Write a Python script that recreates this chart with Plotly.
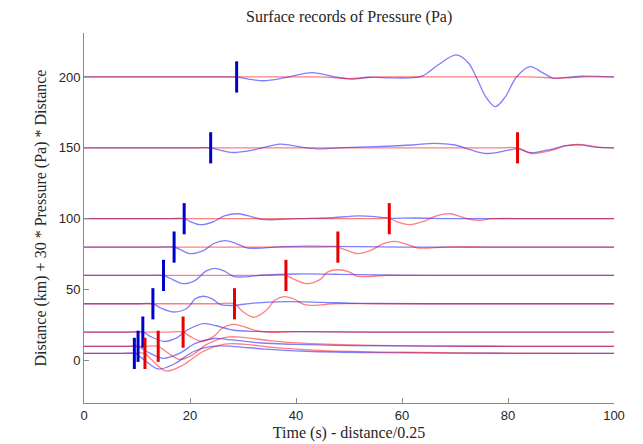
import plotly.graph_objects as go

# ---- data ----
distances = [5, 10, 20, 40, 60, 80, 100, 150, 200]
blue_picks = [9.5, 10.2, 11.1, 13.0, 15.0, 17.0, 18.9, 23.9, 28.8]
red_picks = [11.5, 14.0, 18.7, 28.4, 38.1, 47.9, 57.6, 81.8, 106.2]

x_ticks = [0, 20, 40, 60, 80, 100]
y_ticks = [0, 50, 100, 150, 200]

blue_t_5 = [0, 7, 9.5, 10.8, 14, 17, 20.5, 24, 28, 34, 42, 55, 70, 85, 100]
blue_y_5 = [5, 5, 5, 2, -6, -2.5, 6, 10, 10, 8, 6.5, 5.5, 5.2, 5, 5]
red_t_5 = [0, 9, 11.5, 12.6, 15.5, 18.8, 22.3, 26.5, 30, 36, 45, 60, 80, 100]
red_y_5 = [5, 5, 5, 1, -7.5, -3, 6, 11.5, 11.5, 9, 7, 5.8, 5.2, 5]

blue_t_10 = [0, 7.5, 10.2, 11.5, 15, 18, 21, 24.5, 28, 33, 40, 50, 65, 80, 100]
blue_y_10 = [10, 10, 10, 7, 1.5, 5, 12, 15.5, 14.5, 12.5, 11.3, 10.5, 10.1, 10, 10]
red_t_10 = [0, 11, 14, 15.2, 18, 20.5, 23, 27, 30, 35, 42, 55, 70, 85, 100]
red_y_10 = [10, 10, 10, 7, 0.7, 4, 11, 16.5, 16.3, 14, 12, 10.6, 10.1, 10, 10]

blue_t_20 = [0, 8, 11.1, 12.5, 15, 17.5, 19.5, 22.5, 25, 28, 32, 40, 55, 100]
blue_y_20 = [20, 20, 20, 17, 13.5, 16, 21.5, 26, 24.5, 21.5, 20.5, 20.3, 20, 20]
red_t_20 = [0, 15.5, 18.7, 20, 22.2, 24.5, 26, 28, 30, 32.5, 35, 40, 55, 100]
red_y_20 = [20, 20, 20, 17, 13.5, 17, 22.5, 25.4, 24, 21, 19.8, 20.3, 20, 20]

blue_t_40 = [0, 10, 13, 14.5, 17, 19.5, 21, 22.5, 24.2, 25.7, 28, 32, 38, 45, 52, 65, 100]
blue_y_40 = [40, 40, 40, 37, 34.2, 37, 43.5, 45.3, 43.5, 39.5, 38.8, 40.5, 41.5, 41, 40.3, 40, 40]
red_t_40 = [0, 25, 28.4, 29.8, 32, 34.3, 36, 37.8, 39.8, 41.5, 43.5, 47, 55, 100]
red_y_40 = [40, 40, 40, 35, 30.5, 35, 42.5, 45, 43, 39.5, 38.8, 40, 40, 40]

blue_t_60 = [0, 12, 15, 16.2, 18.7, 21, 23, 24.7, 26.5, 28.2, 30.5, 34, 40, 48, 55, 65, 100]
blue_y_60 = [60, 60, 60, 58, 54.2, 56.5, 63, 65, 63, 59.3, 59, 60.3, 61, 60.8, 60.3, 60, 60]
red_t_60 = [0, 35, 38.1, 39.5, 42, 44.5, 46, 48, 50, 51.5, 53.5, 57, 65, 100]
red_y_60 = [60, 60, 60, 57.5, 54.2, 57, 62.5, 64, 62.5, 59.5, 59.2, 60, 60, 60]

blue_t_80 = [0, 14, 17, 18, 20, 22.5, 24.5, 26.6, 28.7, 30.7, 33, 36, 42, 47, 52, 60, 100]
blue_y_80 = [80, 80, 80, 78.5, 75.4, 77.5, 82.5, 84.5, 82.5, 79.5, 79.2, 80, 80.6, 80.5, 80.3, 80, 80]
red_t_80 = [0, 45, 47.9, 49, 51.5, 54, 56.5, 58.7, 60.8, 62.8, 65, 68, 76, 100]
red_y_80 = [80, 80, 80, 78.5, 75.4, 77.5, 82.5, 84, 82, 79.5, 79.3, 80, 80, 80]

blue_t_100 = [0, 16, 18.9, 20, 21.9, 24.5, 26.5, 29.1, 31.5, 33.5, 36, 40, 46, 52, 56, 58, 62, 70, 80, 100]
blue_y_100 = [100, 100, 100, 98, 95.8, 98, 102, 103.5, 101.5, 99.5, 99.3, 100, 100.5, 102, 101, 100.3, 100.5, 100, 100, 100]
red_t_100 = [0, 54.5, 57.6, 59, 61.5, 64, 66.5, 69.1, 71, 72.5, 74.7, 77, 84, 100]
red_y_100 = [100, 100, 100, 98, 95.8, 98, 102, 103.5, 101.5, 99.8, 98.8, 100, 100, 100]

blue_t_150 = [0, 21, 23.9, 25.5, 28.2, 32, 37, 41, 44, 48, 55, 62, 66, 70, 73, 76, 79, 81.8, 84.2, 87.5, 91, 93.6, 96.5, 100]
blue_y_150 = [150, 150, 150, 148.5, 146.7, 148.5, 152.6, 150.5, 149.3, 150, 150.8, 152, 153.2, 152, 148.5, 146, 147.5, 149.5, 146.6, 148.5, 151.5, 152.1, 150.5, 150]
red_t_150 = [0, 40, 78.5, 81.8, 84.5, 88, 91, 94, 97, 100]
red_y_150 = [150, 150, 150, 150, 146, 148, 151.5, 152.3, 150.5, 150]

blue_t_200 = [0, 25.5, 28.8, 31, 34, 38, 43, 47.5, 50.5, 54, 58, 62, 64, 67, 70.2, 72.5, 74, 75.8, 77.6, 79.5, 81.6, 84.2, 86.5, 88.5, 90.5, 94, 100]
blue_y_200 = [200, 200, 200, 198.5, 197.3, 199.5, 203, 200, 198.5, 199.8, 199.3, 199.5, 201, 209, 215.5, 210, 200, 186, 179, 186, 200, 207.3, 203, 199.2, 199.5, 200.5, 200]
red_t_200 = [0, 25, 44, 47, 50, 53, 56, 70, 84, 87, 89.5, 92, 95, 100]
red_y_200 = [200, 200, 200, 199.6, 198.8, 199.6, 200, 200, 200, 199.6, 199, 199.6, 200, 200]

blue_t = [blue_t_5, blue_t_10, blue_t_20, blue_t_40, blue_t_60, blue_t_80, blue_t_100, blue_t_150, blue_t_200]
blue_y = [blue_y_5, blue_y_10, blue_y_20, blue_y_40, blue_y_60, blue_y_80, blue_y_100, blue_y_150, blue_y_200]
red_t = [red_t_5, red_t_10, red_t_20, red_t_40, red_t_60, red_t_80, red_t_100, red_t_150, red_t_200]
red_y = [red_y_5, red_y_10, red_y_20, red_y_40, red_y_60, red_y_80, red_y_100, red_y_150, red_y_200]

PICK_HALF = 11

fig = go.Figure()

for bt, by, rt, ry in zip(blue_t, blue_y, red_t, red_y):
    fig.add_trace(go.Scatter(x=bt, y=by, mode="lines",
                             line=dict(color="rgba(0,0,255,0.5)", width=1.3, shape="spline", smoothing=0.9),
                             hoverinfo="skip", showlegend=False))
    fig.add_trace(go.Scatter(x=rt, y=ry, mode="lines",
                             line=dict(color="rgba(255,0,0,0.5)", width=1.3, shape="spline", smoothing=0.9),
                             hoverinfo="skip", showlegend=False))

bx, byy, rx, ryy = [], [], [], []
for d, b, r in zip(distances, blue_picks, red_picks):
    bx += [b, b, None]
    byy += [d - PICK_HALF, d + PICK_HALF, None]
    rx += [r, r, None]
    ryy += [d - PICK_HALF, d + PICK_HALF, None]

fig.add_trace(go.Scatter(x=bx, y=byy, mode="lines", line=dict(color="#0000cc", width=3),
                         hoverinfo="skip", showlegend=False))
fig.add_trace(go.Scatter(x=rx, y=ryy, mode="lines", line=dict(color="#e60000", width=3),
                         hoverinfo="skip", showlegend=False))

axis_common = dict(showgrid=False, zeroline=False, showline=True, linecolor="#8a8a8a", linewidth=1,
                   ticks="inside", ticklen=5, tickcolor="#8a8a8a", mirror=False, automargin=False,
                   tickfont=dict(family="Liberation Sans, Arial, sans-serif", size=13, color="#262626"))

fig.update_layout(
    width=643, height=444,
    margin=dict(l=84, r=29, t=33, b=41),
    paper_bgcolor="white", plot_bgcolor="white",
    hovermode=False,
    title=dict(text="Surface records of Pressure (Pa)", x=0.543, xanchor="center", y=0.963, yanchor="middle",
               font=dict(family="Liberation Serif, serif", size=16, color="#262626")),
    xaxis=dict(range=[0, 100], tickvals=x_ticks, **axis_common,
               title=dict(text="Time (s) - distance/0.25", standoff=5,
                          font=dict(family="Liberation Serif, serif", size=16, color="#262626"))),
    yaxis=dict(range=[-30, 231], tickvals=y_ticks, **axis_common,
               title=dict(text="Distance (km) + 30 * Pressure (Pa) * Distance", standoff=8,
                          font=dict(family="Liberation Serif, serif", size=16, color="#262626"))),
)

fig.write_html("out.html", config={"displayModeBar": False, "staticPlot": True},
               post_script="document.body.style.margin='0';document.body.style.overflow='hidden';")
